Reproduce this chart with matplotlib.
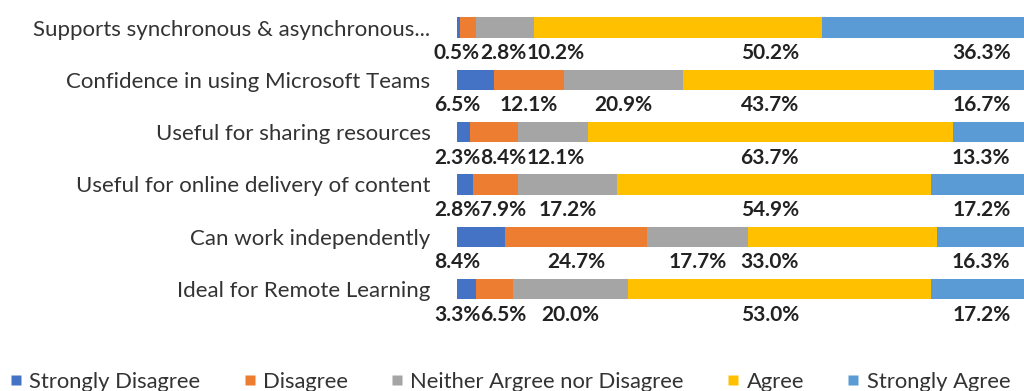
import matplotlib
matplotlib.use("Agg")
import matplotlib.pyplot as plt
from matplotlib.lines import Line2D
import numpy as np

categories = [
    "Supports synchronous & asynchronous...",
    "Confidence in using Microsoft Teams",
    "Useful for sharing resources",
    "Useful for online delivery of content",
    "Can work independently",
    "Ideal for Remote Learning",
]
series_names = ["Strongly Disagree", "Disagree", "Neither Argree nor Disagree", "Agree", "Strongly Agree"]
strongly_disagree = [0.5, 6.5, 2.3, 2.8, 8.4, 3.3]
disagree = [2.8, 12.1, 8.4, 7.9, 24.7, 6.5]
neither = [10.2, 20.9, 12.1, 17.2, 17.7, 20.0]
agree = [50.2, 43.7, 63.7, 54.9, 33.0, 53.0]
strongly_agree = [36.3, 16.7, 13.3, 17.2, 16.3, 17.2]

colors = ["#4472C4", "#ED7D31", "#A5A5A5", "#FFC000", "#5B9BD5"]
AGREE_LABEL_X = 54.6
SA_LABEL_X = 91.5

plt.rcParams['font.family'] = ['Lato', 'DejaVu Sans']

fig = plt.figure(figsize=(10.24, 3.91), dpi=100)
ax = fig.add_axes([457 / 1024, 51 / 391, 1 - 457 / 1024, 340 / 391])

data = np.array([strongly_disagree, disagree, neither, agree, strongly_agree])
y = np.arange(len(categories))
lefts = np.zeros(len(categories))
for i, vals in enumerate(data):
    ax.barh(y, vals, left=lefts, height=0.39, color=colors[i], edgecolor='none')
    lefts = lefts + vals

ax.set_xlim(0, (1024 - 457) / 5.73)
ax.set_ylim(5.975, -0.526)
ax.set_yticks(y)
ax.set_yticklabels(categories, fontsize=16.0, color='#333333')
ax.tick_params(axis='y', length=0, pad=19)
ax.set_xticks([])
for s in ax.spines.values():
    s.set_visible(False)

# data labels below bars
fig.canvas.draw()
renderer = fig.canvas.get_renderer()
inv = ax.transData.inverted()
cum = np.cumsum(data, axis=0) - data
for r in range(len(categories)):
    prev_right = -1e9
    for i in range(5):
        v = data[i, r]
        if i == 0:
            xc = cum[i, r]
        elif i == 3:
            xc = AGREE_LABEL_X
        elif i == 4:
            xc = SA_LABEL_X
        else:
            xc = cum[i, r] + v / 2
        t = ax.text(xc, r + 0.49, f"{v:.1f}%", ha='center', va='center',
                    fontsize=15, fontweight='bold', color='#222222')
        bb = t.get_window_extent(renderer)
        w = bb.width
        xpix = ax.transData.transform((xc, 0))[0]
        left_pix = xpix - w / 2
        if left_pix < prev_right:
            xpix = prev_right + w / 2
            t.set_x(inv.transform((xpix, 0))[0])
        prev_right = xpix + w / 2

handles = [Line2D([0], [0], marker='s', linestyle='none', markersize=7,
                  markerfacecolor=c, markeredgecolor='none') for c in colors]
fig.legend(handles, series_names, loc='lower left', bbox_to_anchor=(-0.010, -0.052),
           ncol=5, frameon=False, fontsize=15.8, handlelength=0.6, handletextpad=0.3,
           columnspacing=1.95, labelcolor='#333333')

fig.savefig("out.png", dpi=100)
